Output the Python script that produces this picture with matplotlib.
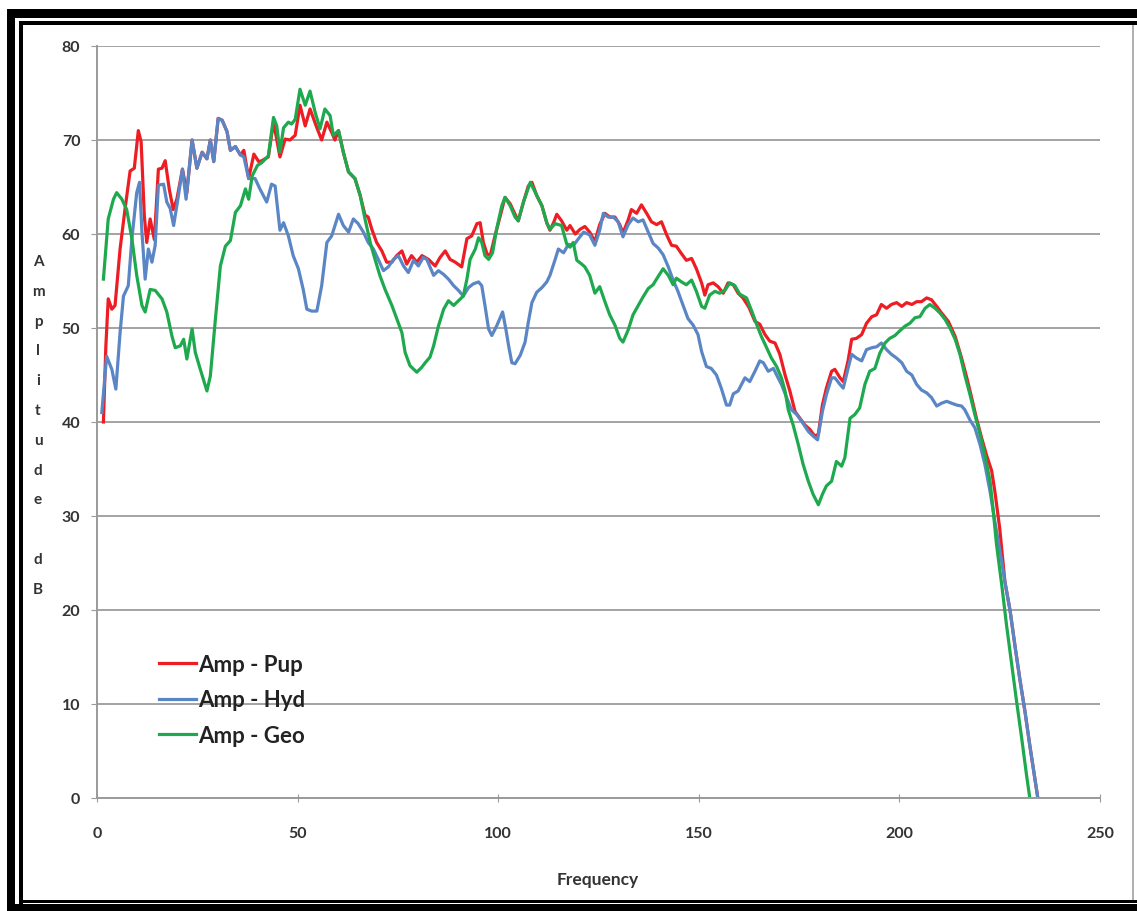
import matplotlib
matplotlib.use("Agg")
import matplotlib.pyplot as plt
from matplotlib.patches import Rectangle

W, H = 1137, 912

# Amplitude spectra (frequency, amplitude dB)
pup_freq = [1.6, 2.2, 2.8, 3.7, 4.5, 5.75, 7, 8.25, 9.3, 10.3, 11, 11.8, 12.4, 13.25, 14.3,
            15.3, 16.2, 17, 18, 19, 19.9, 21.3, 22.4, 23.7, 24.9, 26.2, 27.4, 28.25, 29.1,
            30.2, 31.2, 32.4, 33.25, 34.5, 35.75, 36.6, 37.8, 39.1, 40.3, 41.1, 42.7, 44,
            45.6, 46.9, 48.1, 49.4, 50.6, 51.9, 53.1, 54.8, 56, 57.3, 58.5, 59.3, 60.2,
            61.4, 62.7, 64.3, 65.6, 66.8, 67.6, 68.5, 69.7, 71, 72.2, 73.5, 74.7, 76, 77.2,
            78.4, 79.7, 81, 82.6, 84.3, 85.5, 86.8, 88, 89.3, 90.9, 92.2, 93.4, 94.7, 95.5,
            96.3, 97.2, 98, 99.2, 100.5, 101.7, 103, 104.2, 105, 106.3, 107.5, 108.4, 109.6,
            110.9, 112.1, 112.9, 113.8, 114.6, 115.8, 117.1, 117.9, 119.2, 120.4, 121.6,
            122.8, 124.1, 125.3, 126.6, 127.8, 129.1, 130.3, 131.1, 132.4, 133.2, 134.5,
            135.7, 137, 138.2, 139.5, 140.7, 142, 143.2, 144.4, 145.7, 146.9, 148.2, 149.4,
            150.7, 151.5, 152.3, 153.6, 154.8, 156.1, 157.3, 158.6, 159.8, 161, 162.5, 164,
            165.2, 166.5, 167.7, 169, 170.2, 171.5, 172.7, 174, 175.2, 176.4, 177.7, 178.9,
            179.8, 180.8, 181.8, 183.1, 183.9, 185.2, 186, 187.2, 188.1, 189.3, 190.6, 191.8,
            193.1, 194.3, 195.5, 196.8, 198, 199.3, 200.6, 201.8, 203.1, 204.3, 205.5, 206.8,
            208, 209.3, 210.5, 212.2, 213.9, 215.5, 216.8, 218, 219.2, 220.5, 221.7, 223,
            223.8, 225, 226.3, 227.6, 228.8, 230, 231.3, 232.5, 233.8, 234.5]
pup_amp = [40, 48, 53.1, 52, 52.4, 58.4, 62.7, 66.7, 67, 71, 69.8, 61.9, 59.1, 61.6, 59.4,
           66.9, 67, 67.8, 64.8, 62.6, 63.7, 66.9, 64.4, 70, 67, 68.7, 68, 70, 67.7,
           72.3, 72.1, 70.9, 68.9, 69.3, 68.4, 68.9, 65.9, 68.5, 67.7, 67.8, 68.2, 71.9,
           68.2, 70.1, 70, 70.5, 73.7, 71.5, 73.3, 71.3, 70, 71.9, 70.8, 70, 71,
           68.7, 66.6, 65.9, 64.1, 62, 61.8, 60.5, 59.1, 58.2, 57, 57, 57.7, 58.2, 56.8,
           57.7, 57, 57.7, 57.3, 56.6, 57.5, 58.2, 57.3, 57, 56.5, 59.5, 59.8, 61.1, 61.2,
           59.1, 57.9, 57.7, 59.8, 61.9, 63.9, 63.2, 62.1, 61.4, 63.4, 65.1, 65.5, 64.1,
           63, 61.2, 60.4, 61.2, 62.1, 61.4, 60.4, 60.9, 60, 60.5, 60.8,
           60.2, 59.2, 61, 62.2, 61.8, 61.8, 61, 60.1, 61.5, 62.6, 62.2,
           63.1, 62.2, 61.3, 61, 61.3, 59.9, 58.8, 58.7, 57.9, 57.2, 57.4, 56.3,
           54.8, 53.5, 54.6, 54.8, 54.4, 53.7, 54.8, 54.6, 53.7, 53.2, 52.2, 50.7,
           50.4, 49.3, 48.6, 48.4, 47.2, 45, 43.3, 41.1, 40.4, 39.7, 39.2, 38.5,
           38.7, 41.8, 43.6, 45.4, 45.6, 44.7, 44.3, 46.5, 48.8, 48.9, 49.3, 50.5,
           51.2, 51.4, 52.5, 52.1, 52.5, 52.7, 52.3, 52.7, 52.5, 52.8, 52.8, 53.2,
           53, 52.3, 51.6, 50.7, 49.1, 46.8, 44.7, 42.6, 40.4, 38.3, 36.5, 34.8,
           32.6, 28.7, 23, 19.9, 16.2, 12.7, 9.2, 5.6, 2, 0]

hyd_freq = [1.2, 2.4, 3.7, 4.7, 5.75, 6.6, 7.8, 8.7, 9.9, 10.6, 11.2, 12, 12.8, 13.7, 14.5,
            15.3, 16.6, 17.4, 18.25, 19.1, 20.3, 21.3, 22.2, 23.7, 24.9, 26.2, 27.4, 28.25,
            29.1, 30.2, 31.2, 32.4, 33.25, 34.5, 35.75, 36.6, 37.8, 39.4, 40.6, 42.3, 43.5,
            44.4, 45.6, 46.5, 47.7, 48.9, 50.2, 51.4, 52.3, 53.5, 54.8, 56, 57.3, 58.5,
            60.2, 61.4, 62.7, 63.9, 65.1, 66.4, 67.6, 68.9, 70.1, 71.4, 72.6, 73.9, 75.1,
            76.4, 77.6, 78.9, 80.1, 81.3, 82.2, 83.9, 85.1, 86.4, 87.6, 88.9, 90.1, 91.3,
            92.6, 93.8, 95.1, 95.9, 96.7, 97.6, 98.4, 99.6, 101.1, 101.9, 102.6, 103.4,
            104.2, 105.5, 106.7, 107.5, 108.4, 109.6, 110.9, 112.1, 112.9, 114.2, 115,
            116.3, 117.5, 118.8, 120, 121.3, 122.8, 124.1, 125.3, 126.2, 127.4, 128.7,
            129.9, 131.1, 132.4, 133.6, 134.9, 136.1, 137.4, 138.6, 139.9, 141.1, 142.4,
            143.6, 144.8, 146.1, 147.3, 148.6, 149.8, 150.7, 151.9, 153.1, 154.4, 155.6,
            156.9, 157.7, 158.6, 159.8, 161.5, 162.7, 164, 165.2, 166.1, 167.3, 168.6,
            169.4, 170.6, 171.9, 173.1, 174.4, 175.6, 177.3, 178.5, 179.6, 180.8, 181.8,
            183.1, 183.9, 185.2, 186, 187.2, 188.1, 189.3, 190.6, 191.8, 193.1, 194.3,
            195.5, 196.8, 198, 199.3, 200.6, 201.8, 203.1, 204.3, 205.5, 206.8, 208, 209.3,
            210.5, 211.8, 213, 214.3, 215.5, 216.3, 217.6, 218.8, 220.1, 221.3, 222.6,
            223.8, 225.1, 226.3, 227.6, 228.8, 230, 231.3, 232.5, 233.8, 234.5]
hyd_amp = [41, 47, 45.6, 43.5, 49.5, 53.4, 54.5, 59.5, 64.4, 65.5, 60.2, 55.2, 58.4, 57, 58.8,
           65.2, 65.3, 63.4, 62.7, 60.9, 64.1, 66.9, 63.7, 70, 67, 68.7, 68, 70,
           67.7, 72.3, 72.1, 70.9, 68.9, 69.3, 68.4, 68.2, 65.9, 65.9, 64.8, 63.4, 65.3,
           65.1, 60.4, 61.2, 59.8, 57.7, 56.3, 54.1, 52, 51.8, 51.8, 54.5, 59.1, 59.8,
           62.1, 60.9, 60.2, 61.6, 61.1, 60.2, 59.1, 58.4, 57.3, 56.1, 56.5, 57.3, 57.7,
           56.6, 55.9, 57.2, 56.6, 57.5, 57.3, 55.6, 56.1, 55.7, 55.2, 54.5, 54, 53.4,
           54.3, 54.7, 54.9, 54.5, 52.4, 49.9, 49.2, 50.2, 51.7, 49.9, 48.1, 46.3,
           46.2, 47.1, 48.5, 50.6, 52.7, 53.8, 54.3, 54.9, 55.6, 57.3, 58.4,
           58, 58.9, 58.8, 59.5, 60.2, 59.9, 58.8, 60.4, 62.2, 61.8, 61.8,
           61.3, 59.7, 61, 61.7, 61.3, 61.5, 60.2, 59, 58.5, 57.8, 56.5,
           55.1, 53.9, 52.4, 51, 50.3, 49.3, 47.5, 45.9, 45.7, 45, 43.6,
           41.8, 41.8, 43, 43.3, 44.7, 44.3, 45.4, 46.5, 46.3, 45.4, 45.7,
           45, 44, 42.6, 41.3, 40.8, 40.1, 39, 38.5, 38.1, 41.1, 42.9,
           44.7, 44.7, 44, 43.6, 45.7, 47.2, 46.8, 46.5, 47.7, 47.9, 48,
           48.4, 47.7, 47.2, 46.8, 46.3, 45.4, 45, 44, 43.4, 43.1, 42.6, 41.7,
           42, 42.2, 42, 41.8, 41.7, 41.3, 40.2, 39.4, 37.6, 35.5, 32.6,
           29.4, 26.2, 23, 19.9, 16.2, 12.7, 9.2, 5.6, 2, 0]

geo_freq = [1.6, 2.8, 4.1, 4.9, 6.2, 7.4, 8.7, 9.9, 11.2, 12, 13.25, 14.5, 16.2, 17.4, 18.7,
            19.5, 20.75, 21.6, 22.4, 23.7, 24.5, 25.75, 27.4, 28.25, 29.5, 30.75, 32, 33.25,
            34.5, 35.75, 37, 37.8, 38.7, 40, 41.1, 42.7, 44, 44.8, 45.6, 46.5, 47.7, 48.5,
            49.4, 50.6, 51.9, 53.1, 54.4, 55.6, 56.8, 58.1, 58.9, 60.2, 61.4, 62.7, 64.3,
            65.6, 66.8, 68.1, 69.3, 70.5, 71.8, 73.5, 74.7, 76, 76.8, 78, 79.7, 80.9, 81.8,
            83, 83.9, 85.1, 86.4, 87.6, 88.9, 90.1, 91.3, 92.2, 93, 94.3, 95.1, 95.9, 96.7,
            97.6, 98.6, 99.6, 100.9, 101.7, 103, 104.2, 105, 106.3, 108, 109.6, 110.9,
            112.1, 112.9, 114.2, 115.8, 117.1, 117.9, 118.7, 119.6, 120.8, 121.6, 122.8,
            124.1, 125.3, 126.6, 127.8, 129.1, 130.3, 131.1, 132.4, 133.6, 134.9, 136.1,
            137.4, 138.6, 139.9, 141.1, 142.4, 143.6, 144.4, 145.7, 146.9, 148.2, 149.4,
            150.7, 151.5, 152.7, 154, 155.2, 156.5, 157.7, 159, 160.2, 161.9, 163.2, 164.4,
            165.6, 166.9, 168.1, 169.4, 170.6, 171.5, 172.3, 173.5, 174.8, 176, 177.3,
            178.5, 179.8, 180.8, 181.8, 183.1, 184.3, 185.6, 186.4, 187.7, 188.9, 190.1,
            191.4, 192.6, 193.9, 195.1, 196.4, 197.6, 198.9, 200.1, 201.4, 202.6, 203.9,
            205.1, 206.4, 207.6, 208.9, 210.1, 211.4, 212.6, 213.9, 215.1, 216.3, 217.6,
            218.8, 220.1, 221.3, 222.6, 223.4, 224.2, 225.5, 226.7, 228, 229.2, 230.5,
            231.7, 232.5]
geo_amp = [55.2, 61.6, 63.7, 64.4, 63.7, 62.6, 59.5, 55.6, 52.4, 51.7, 54.1, 54, 53.1, 51.7, 49.1,
           47.9, 48.1, 48.8, 46.7, 49.9, 47.4, 45.6, 43.3, 44.9, 50.9, 56.6, 58.7, 59.3,
           62.3, 63, 64.8, 63.7, 66.2, 67.3, 67.6, 68.3, 72.4, 71.5, 68.7, 71.3, 71.9, 71.7,
           72.2, 75.4, 73.7, 75.2, 72.9, 71.2, 73.3, 72.6, 70.5, 71, 68.7, 66.6, 65.9,
           64.1, 61.6, 59.1, 57.3, 55.6, 54.1, 52.4, 51, 49.5, 47.4, 46, 45.3, 45.8, 46.3,
           46.9, 48.1, 50.2, 52, 52.9, 52.4, 52.9, 53.4, 55.2, 57.3, 58.4, 59.6, 59.1, 57.7,
           57.3, 58, 60.5, 63, 63.9, 63, 61.8, 61.4, 63.4, 65.5, 64.1, 63,
           61.2, 60.5, 61.1, 60.9, 58.9, 58.6, 59.1, 57.2, 56.8, 56.5, 55.6,
           53.7, 54.4, 52.8, 51.4, 50.3, 48.9, 48.5, 49.8, 51.4, 52.4, 53.3,
           54.2, 54.6, 55.5, 56.3, 55.6, 54.6, 55.3, 54.9, 54.6, 55.1, 53.9,
           52.3, 52.1, 53.5, 53.9, 53.7, 54, 54.8, 54.5, 53.6, 53.2, 51.8, 50.4,
           49.1, 47.9, 46.8, 45.9, 44.7, 43.3, 41.3, 39.7, 37.6, 35.5, 33.7,
           32.3, 31.2, 32.3, 33.2, 33.7, 35.8, 35.3, 36.2, 40.4, 40.8, 41.5,
           44, 45.4, 45.7, 47.3, 48.4, 48.9, 49.2, 49.7, 50.2, 50.5, 51.1,
           51.2, 52.1, 52.5, 52.1, 51.6, 50.9, 50, 48.8, 47.2, 45, 42.9,
           40.8, 38.7, 36.5, 33.7, 30.5, 27, 22.7, 18.4, 14.2, 10.3, 6.3,
           2.4, 0]

series_labels = ["Amp - Pup", "Amp - Hyd", "Amp - Geo"]
series_colors = ["#ee1d23", "#5b86c5", "#1ea94f"]
y_ticks = [0, 10, 20, 30, 40, 50, 60, 70, 80]
x_ticks = [0, 50, 100, 150, 200, 250]

plt.rcParams["font.family"] = ["Lato", "DejaVu Sans"]

fig = plt.figure(figsize=(W / 100, H / 100), dpi=100)
fig.patch.set_facecolor("white")
ax = fig.add_axes([97 / W, 1 - 799 / H, (1100 - 97) / W, (799 - 47) / H])

for fx, amp, lab, col in zip([pup_freq, hyd_freq, geo_freq],
                             [pup_amp, hyd_amp, geo_amp],
                             series_labels, series_colors):
    ax.plot(fx, amp, color=col, lw=2.3, label=lab, solid_joinstyle="round")

ax.set_xlim(0, 250)
ax.set_ylim(0, 80)
ax.set_xticks(x_ticks)
ax.set_yticks(y_ticks)
ax.yaxis.grid(True, color="#a3a3a3", lw=1.4)
ax.set_axisbelow(True)
for s in ["top", "right"]:
    ax.spines[s].set_visible(False)
for s in ["left", "bottom"]:
    ax.spines[s].set_color("#9a9a9a")
    ax.spines[s].set_linewidth(1.4)
ax.tick_params(axis="y", direction="out", length=4, color="#9a9a9a", pad=8,
               labelsize=11.5, labelcolor="#333333")
ax.tick_params(axis="x", direction="inout", length=6, color="#9a9a9a", pad=17,
               labelsize=11.5, labelcolor="#333333")
for t in ax.get_xticklabels() + ax.get_yticklabels():
    t.set_fontweight("bold")

leg = ax.legend(loc="upper left", bbox_to_anchor=(0.062, 0.192), frameon=False,
                prop={"size": 16, "weight": "bold"}, handlelength=1.65,
                handletextpad=0.1, labelspacing=0.66, borderpad=0, borderaxespad=0)
for t in leg.get_texts():
    t.set_color("#222222")

# stacked vertical axis title
for i, ch in enumerate("Amplitude dB"):
    fig.text(38 / W, 1 - (262 + i * 29.8) / H, ch, ha="center", va="center",
             fontsize=11, fontweight="bold", color="#333333")
fig.text(598 / W, 1 - 880 / H, "Frequency", ha="center", va="center",
         fontsize=12.5, fontweight="bold", color="#333333")


def px_rect(x0, y0, x1, y1, color="black"):
    fig.add_artist(Rectangle((x0 / W, 1 - y1 / H), (x1 - x0) / W, (y1 - y0) / H,
                             transform=fig.transFigure, color=color, lw=0))


# page frame
px_rect(7, 10, W, 19)
px_rect(7, 10, 15, H)
px_rect(7, 905, W, H)
px_rect(19, 22, W, 26)
px_rect(19, 22, 23, 905)
px_rect(19, 901, W, 904)
px_rect(1132, 26, 1134, 901, color="#b0b0b0")

fig.savefig("out.png", dpi=100)
